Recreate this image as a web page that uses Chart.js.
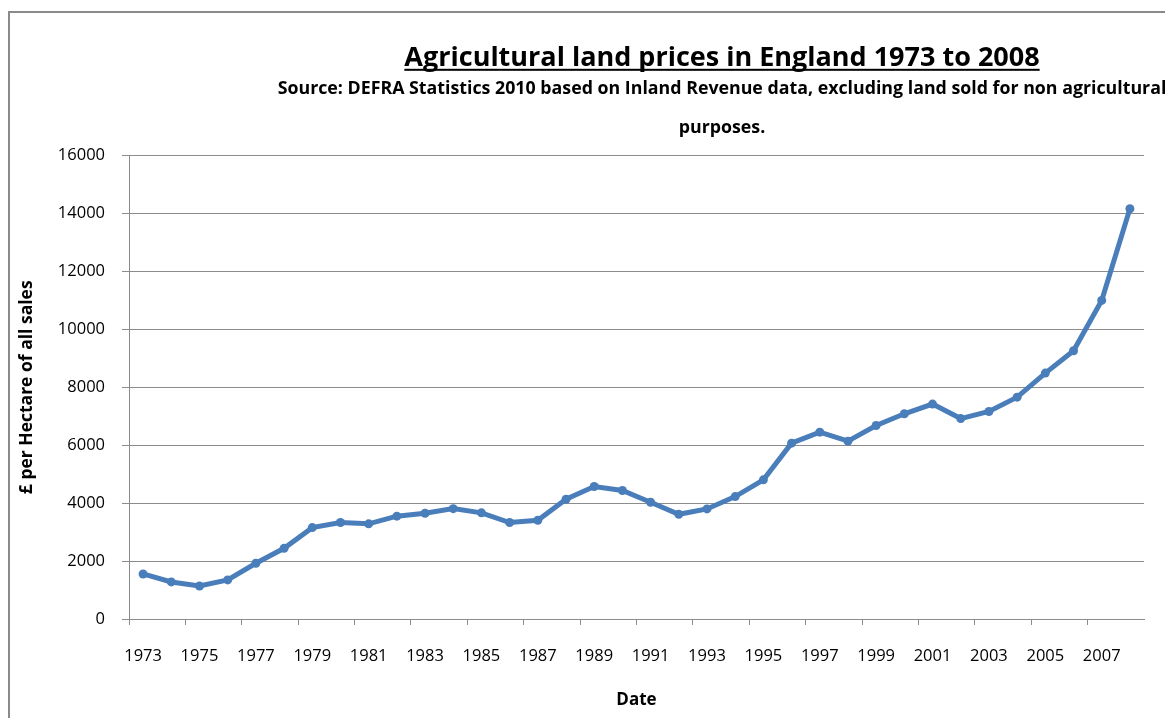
<!DOCTYPE html>
<html><head><meta charset="utf-8">
<script src="https://cdn.jsdelivr.net/npm/chart.js@4/dist/chart.umd.min.js"></script>
<style>
html,body{margin:0;padding:0;background:#fff;overflow:hidden;width:1165px;height:718px;}
#frame{position:absolute;left:8px;top:11px;width:1300px;height:800px;border-left:2px solid #8a8a8a;border-top:2px solid #8a8a8a;}
#c{position:absolute;left:0;top:0;}
</style></head><body>
<div id="frame"></div>
<canvas id="c" width="1444" height="718"></canvas>
<script>
const years = ['1973','1974','1975','1976','1977','1978','1979','1980','1981','1982','1983','1984',
  '1985','1986','1987','1988','1989','1990','1991','1992','1993','1994','1995','1996',
  '1997','1998','1999','2000','2001','2002','2003','2004','2005','2006','2007','2008'];
const pricePerHectare = [1555,1280,1140,1350,1925,2440,3155,3330,3285,3550,3650,3810,
  3665,3330,3410,4135,4575,4435,4030,3615,3800,4225,4805,6070,
  6450,6140,6680,7085,7420,6920,7165,7660,8490,9260,11000,14165];
const xTickLabels = ['1973','1975','1977','1979','1981','1983','1985','1987','1989','1991',
  '1993','1995','1997','1999','2001','2003','2005','2007'];
const yTickValues = [0,2000,4000,6000,8000,10000,12000,14000,16000];
const titleText = 'Agricultural land prices in England 1973 to 2008';
const subtitleLines = ['Source: DEFRA Statistics 2010 based on Inland Revenue data, excluding land sold for non agricultural',
  'purposes.'];
const yAxisTitle = '£ per Hectare of all sales';
const xAxisTitle = 'Date';

const FONT = '"Open Sans"';
const TITLE_SIZE = 27;
const TITLE_LH = 0.8;
const GRID = '#8c8c8c';
const LINE = '#4A7EBB';

const underlineTitle = {
  id: 'underlineTitle',
  afterDraw(chart) {
    const tb = chart.titleBlock;
    if (!tb) return;
    const ctx = chart.ctx;
    ctx.save();
    ctx.font = 'bold ' + TITLE_SIZE + 'px ' + FONT;
    const w = ctx.measureText(titleText).width;
    const cx = (tb.left + tb.right) / 2;
    const pad = chart.options.plugins.title.padding;
    const y = tb.top + pad.top + TITLE_SIZE * TITLE_LH / 2 + 10;
    ctx.fillStyle = '#000';
    ctx.fillRect(cx - w / 2, y, w, 2);
    ctx.restore();
  }
};

new Chart(document.getElementById('c'), {
  type: 'line',
  data: {
    labels: years,
    datasets: [{
      data: pricePerHectare,
      borderColor: LINE,
      backgroundColor: LINE,
      borderWidth: 5,
      pointRadius: 4.5,
      pointBorderWidth: 0,
      pointBackgroundColor: LINE,
      tension: 0,
      fill: false,
      xAxisID: 'x',
      yAxisID: 'y'
    }]
  },
  options: {
    responsive: false,
    animation: false,
    devicePixelRatio: 1,
    layout: { padding: 0 },
    plugins: {
      legend: { display: false },
      tooltip: { enabled: false },
      title: {
        display: true,
        text: titleText,
        color: '#000',
        font: { family: FONT, size: TITLE_SIZE, weight: 'bold', lineHeight: TITLE_LH },
        padding: { top: 48, bottom: 0 }
      },
      subtitle: {
        display: true,
        text: subtitleLines,
        color: '#000',
        font: { family: FONT, size: 17.8, weight: 'bold', lineHeight: 2.19 },
        padding: { top: 0, bottom: 8 }
      }
    },
    scales: {
      x: {
        type: 'category',
        offset: true,
        grid: {
          offset: true,
          drawOnChartArea: false,
          drawTicks: true,
          tickLength: 6,
          color: (ctx) => (ctx.index % 2 === 0 ? GRID : 'rgba(0,0,0,0)'),
          lineWidth: 1
        },
        border: { display: true, color: GRID, width: 1 },
        ticks: {
          autoSkip: false,
          maxRotation: 0,
          minRotation: 0,
          padding: 21,
          color: '#000',
          font: { family: FONT, size: 16.5 },
          callback: function (value) {
            const lab = this.getLabelForValue(value);
            return xTickLabels.includes(lab) ? lab : '';
          }
        },
        title: {
          display: true,
          text: xAxisTitle,
          color: '#000',
          font: { family: FONT, size: 17, weight: 'bold', lineHeight: 1.2 },
          padding: { top: 0, bottom: 8 }
        },
        afterFit: (s) => { s.height = 99; }
      },
      y: {
        position: 'left',
        min: 0,
        max: 16000,
        afterBuildTicks: (s) => { s.ticks = yTickValues.map(v => ({ value: v })); },
        grid: { color: GRID, lineWidth: 1, tickLength: 7, drawTicks: true },
        border: { display: true, color: GRID, width: 1 },
        ticks: {
          padding: 17,
          color: '#000',
          font: { family: FONT, size: 16.5 },
          callback: (v) => String(v)
        },
        title: {
          display: true,
          text: yAxisTitle,
          color: '#000',
          font: { family: FONT, size: 17.5, weight: 'bold', lineHeight: 1.2 },
          padding: { top: 17, bottom: 0 }
        },
        afterFit: (s) => { s.width = 129; }
      },
      yRight: {
        position: 'right',
        display: true,
        grid: { display: false, drawTicks: false },
        border: { display: false },
        ticks: { display: false },
        afterFit: (s) => { s.width = 300; }
      }
    }
  },
  plugins: [underlineTitle]
});
</script>
</body></html>
